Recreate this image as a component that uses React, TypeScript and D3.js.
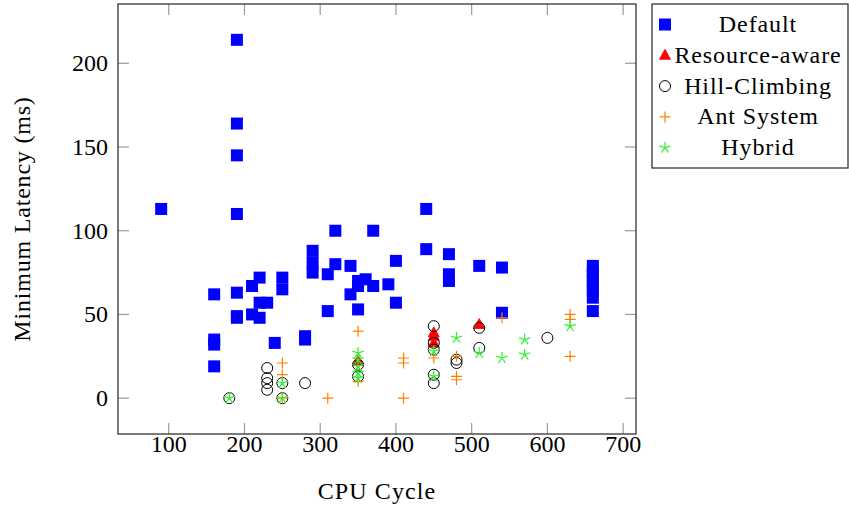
import React from 'react';
import * as d3 from 'd3';

type Pt = [number, number];

const defaultPts: Pt[] = [
  [90, 113], [160, 62], [160, 35], [160, 32], [160, 19],
  [190, 214], [190, 164], [190, 145], [190, 110], [190, 63], [190, 49], [190, 48],
  [210, 67], [210, 50], [220, 72], [220, 57], [220, 48], [230, 57], [240, 33],
  [250, 72], [250, 65], [280, 37], [280, 35], [290, 88], [290, 81], [290, 75],
  [310, 74], [310, 52], [320, 100], [320, 80], [340, 79], [340, 62],
  [350, 70], [350, 67], [350, 53], [360, 71], [370, 100], [370, 67], [390, 68],
  [400, 82], [400, 57], [440, 113], [440, 89], [470, 86], [470, 74], [470, 70],
  [510, 79], [540, 78], [540, 51],
  [660, 79], [660, 76], [660, 73], [660, 70], [660, 67], [660, 64], [660, 60], [660, 52],
];
const resourcePts: Pt[] = [[350, 22], [450, 39], [450, 37], [450, 33], [510, 44]];
const hillPts: Pt[] = [
  [180, 0], [230, 18], [230, 12], [230, 9], [230, 5], [250, 9], [250, 0], [280, 9],
  [350, 20], [350, 13], [450, 43], [450, 33], [450, 29], [450, 14], [450, 9],
  [480, 23], [480, 21], [510, 42], [510, 30], [600, 36],
];
const antPts: Pt[] = [
  [250, 21], [250, 14], [250, 0], [310, 0], [350, 40], [350, 10],
  [410, 24], [410, 21], [410, 0], [450, 24], [480, 25], [480, 13], [480, 11],
  [540, 48], [630, 50], [630, 47], [630, 25],
];
const hybridPts: Pt[] = [
  [180, 0], [250, 9], [250, 0], [350, 27], [350, 23], [350, 19], [350, 15], [350, 12],
  [450, 28], [450, 13], [480, 36], [510, 27], [540, 24], [570, 35], [570, 26], [630, 43],
];

const xTicks = [100, 200, 300, 400, 500, 600, 700];
const yTicks = [0, 50, 100, 150, 200];
const legendNames = ['Default', 'Resource-aware', 'Hill-Climbing', 'Ant System', 'Hybrid'];

const font = '"Liberation Serif", "DejaVu Serif", serif';
const BLUE = '#0000ff', RED = '#ff0000', ORANGE = '#ff8000', GREEN = '#33ee33';

// marker shapes
const Mark = ({ kind, x, y }: { kind: number; x: number; y: number }) => {
  if (kind === 0) return <rect x={x - 6} y={y - 6} width={12} height={12} fill={BLUE} />;
  if (kind === 1) {
    const h = 10;
    return <path d={`M${x},${y - h * 0.6}L${x + 5.5},${y + h * 0.4}L${x - 5.5},${y + h * 0.4}Z`} fill={RED} stroke={RED} strokeWidth={0.8} />;
  }
  if (kind === 2) return <circle cx={x} cy={y} r={5.5} fill="none" stroke="#000" strokeWidth={1} />;
  if (kind === 3)
    return <path d={`M${x - 5.5},${y}H${x + 5.5}M${x},${y - 5.5}V${y + 5.5}`} stroke={ORANGE} strokeWidth={1.2} fill="none" />;
  const rays = d3.range(5).map((i) => {
    const a = -Math.PI / 2 + (i * 2 * Math.PI) / 5;
    return `M${x},${y}L${x + 6 * Math.cos(a)},${y + 6 * Math.sin(a)}`;
  });
  return <path d={rays.join('')} stroke={GREEN} strokeWidth={1.2} fill="none" />;
};

const App = () => {
  const width = 849, height = 506;
  const left = 118, right = 636, top = 4, bottom = 434;
  const x = d3.scaleLinear().domain([33, 717]).range([left, right]);
  const y = d3.scaleLinear().domain([-21.4, 235.4]).range([bottom, top]);
  const series = [defaultPts, resourcePts, hillPts, antPts, hybridPts];

  return (
    <svg width={width} height={height} style={{ position: 'absolute', left: 0, top: 0, background: '#fff' }}>
      {series.map((pts, k) => (
        <g key={k}>
          {pts.map((p, i) => <Mark key={i} kind={k} x={x(p[0])} y={y(p[1])} />)}
        </g>
      ))}
      {/* ticks inside the frame */}
      {xTicks.map((t) => (
        <g key={t} stroke="#9a9a9a" strokeWidth={1.2}>
          <line x1={x(t)} x2={x(t)} y1={bottom} y2={bottom - 11} />
          <line x1={x(t)} x2={x(t)} y1={top} y2={top + 11} />
        </g>
      ))}
      {yTicks.map((t) => (
        <g key={t} stroke="#9a9a9a" strokeWidth={1.2}>
          <line x1={left} x2={left + 11} y1={y(t)} y2={y(t)} />
          <line x1={right} x2={right - 11} y1={y(t)} y2={y(t)} />
        </g>
      ))}
      <rect x={left} y={top} width={right - left} height={bottom - top} fill="none" stroke="#333" strokeWidth={1.3} />
      {xTicks.map((t) => (
        <text key={t} x={x(t)} y={452} textAnchor="middle" fontFamily={font} fontSize={24}>{t}</text>
      ))}
      {yTicks.map((t) => (
        <text key={t} x={108} y={y(t) + 8} textAnchor="end" fontFamily={font} fontSize={24}>{t}</text>
      ))}
      <text x={(left + right) / 2} y={499} textAnchor="middle" fontFamily={font} fontSize={24} letterSpacing={1.1}>CPU Cycle</text>
      <text transform={`translate(30,${(top + bottom) / 2}) rotate(-90)`} textAnchor="middle" fontFamily={font} fontSize={24} letterSpacing={0.8}>
        Minimum Latency (ms)
      </text>
      {/* legend */}
      <rect x={652} y={4} width={196} height={164} fill="#fff" stroke="#333" strokeWidth={1.3} />
      {legendNames.map((name, i) => (
        <g key={name}>
          <Mark kind={i} x={665} y={24.5 + i * 30.8} />
          <text x={758} y={32 + i * 30.8} textAnchor="middle" fontFamily={font} fontSize={24} letterSpacing={0.9}>{name}</text>
        </g>
      ))}
    </svg>
  );
};

export default App;
